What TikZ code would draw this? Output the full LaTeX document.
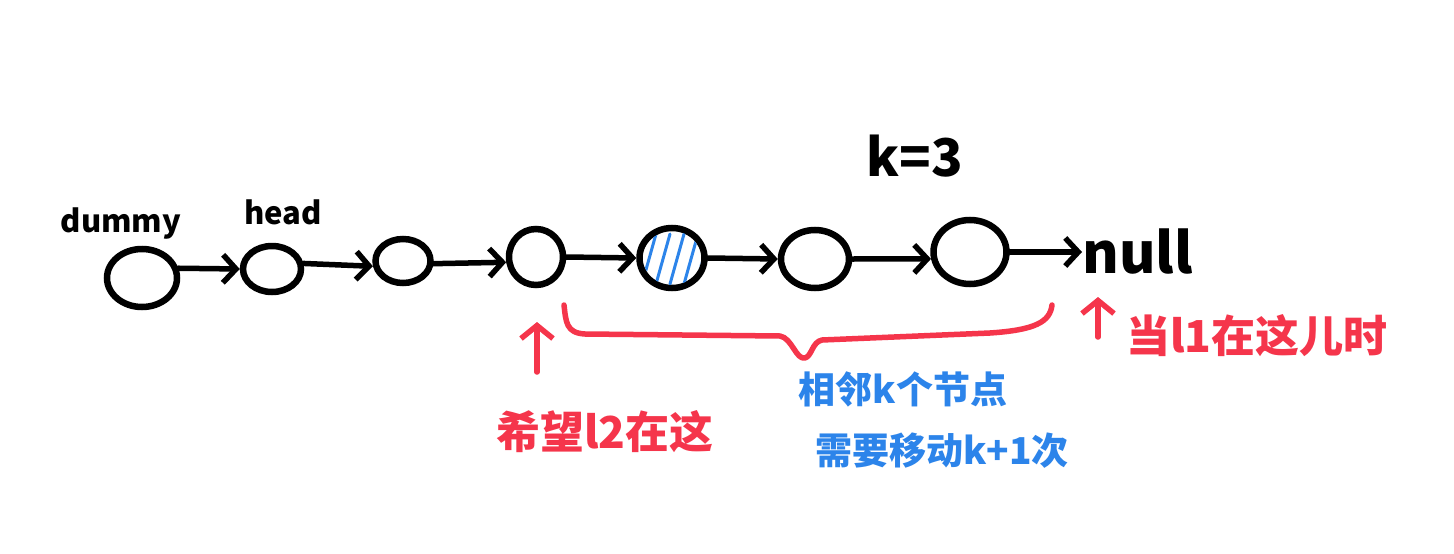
\documentclass[tikz,border=0pt]{standalone}
\usepackage{fontspec}
\setmainfont{Noto Sans CJK SC}
\newfontfamily\cjk{Noto Sans CJK SC}
\usetikzlibrary{shapes.geometric,arrows.meta,calc}
\definecolor{myred}{HTML}{F5354B}
\definecolor{myblue}{HTML}{2C84EA}
\tikzset{
  lnode/.style={ellipse,draw=black,line width=6.5pt,inner sep=0pt,minimum width=#1},
  lnode/.default=60pt,
  link/.style={line width=5.5pt,line cap=round,-{Straight Barb[length=13pt,width=28pt,line width=5.5pt]}},
  redarrow/.style={myred,line width=5.5pt,line cap=round,-{Straight Barb[length=13pt,width=32pt,line width=5.5pt]}},
  lbl/.style={inner sep=0pt,font=\cjk}
}
\begin{document}
\begin{tikzpicture}[x=1pt,y=-1pt]
\useasboundingbox[fill=white] (0,0) rectangle (1454,554);
% nodes
\node[lnode=70pt,minimum height=58pt] (d) at (142,278) {};
\node[lnode=58pt,minimum height=46pt] (h) at (272,269) {};
\node[lnode=55pt,minimum height=44pt] (n3) at (403,261) {};
\node[lnode=54pt,minimum height=56pt] (n4) at (536,257) {};
\node[lnode=65pt,minimum height=60pt] (n5) at (672,258) {};
\node[lnode=68pt,minimum height=58pt] (n6) at (815,259) {};
\node[lnode=73pt,minimum height=64pt] (n7) at (970,252) {};
% hatching
\begin{scope}
\clip (n5.center) ellipse (29pt and 27pt);
\foreach \dx in {-22,-8,6,20,32}
  \draw[myblue,line width=3pt,line cap=round] ($(n5.center)+(\dx-8,26)$) -- ($(n5.center)+(\dx+6,-24)$);
\end{scope}
% labels
\node[lbl,font=\cjk\bfseries\fontsize{31}{34}\selectfont] (tdummy) at (121,224) {dummy};
\node[lbl,font=\cjk\bfseries\fontsize{31}{34}\selectfont] (thead) at (283,212) {head};
\node[lbl,font=\cjk\bfseries\fontsize{52}{54}\selectfont] (tk) at (915,156) {k=3};
\node[lbl,font=\cjk\bfseries\fontsize{56}{58}\selectfont,anchor=west] (null) at (1082,252) {null};
% links
\draw[link] (d.15) -- (h.west);
\draw[link] (h.10) -- (n3.190);
\draw[link] (n3.-5) -- (n4.190);
\draw[link] (n4.east) -- (n5.west);
\draw[link] (n5.east) -- (n6.west);
\draw[link] (n6.east) -- (n7.190);
\draw[link] (n7.east) -- (null.west);
% brace
\coordinate (b1) at (564,305);
\coordinate (b2) at (1052,305);
\draw[myred,line width=5.5pt,line cap=round,line join=round]
  (b1) .. controls (566,322) and (566,333) .. (585,334)
  -- (780,336) .. controls (792,338) and (796,360) .. (805,358)
  .. controls (812,356) and (812,342) .. (822,340)
  -- (990,333) .. controls (1035,330) and (1050,322) .. (b2);
% red arrows and texts
\coordinate (a1s) at (537,372);
\coordinate (a1e) at (537,322);
\draw[redarrow] (a1s) -- (a1e);
\node[lbl,myred,font=\cjk\bfseries\fontsize{44}{46}\selectfont] (t2) at (605,432) {希望l2在这};
\coordinate (a2s) at (1098,337);
\coordinate (a2e) at (1098,297);
\draw[redarrow] (a2s) -- (a2e);
\node[lbl,myred,font=\cjk\bfseries\fontsize{44}{46}\selectfont,anchor=west] (t1) at (1126,336) {当l1在这儿时};
% blue texts
\node[lbl,myblue,font=\cjk\bfseries\fontsize{37}{40}\selectfont] (tb1) at (903,389) {相邻k个节点};
\node[lbl,myblue,font=\cjk\bfseries\fontsize{37}{40}\selectfont] (tb2) at (942,451) {需要移动k+1次};
\end{tikzpicture}
\end{document}
